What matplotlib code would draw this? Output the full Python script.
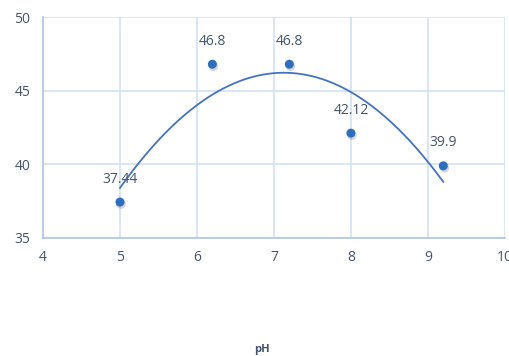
import numpy as np
import matplotlib.pyplot as plt
from matplotlib.transforms import ScaledTranslation

ph = [5, 6.2, 7.2, 8, 9.2]
values = [37.44, 46.8, 46.8, 42.12, 39.9]
labels = ['37.44', '46.8', '46.8', '42.12', '39.9']

plt.rcParams['font.family'] = ['Open Sans', 'DejaVu Sans']

fig = plt.figure(figsize=(5.1, 3.56), dpi=100)
ax = fig.add_axes([0.0843, 0.3315, 0.9057, 0.6205])

ax.set_xlim(4, 10)
ax.set_ylim(35, 50)
ax.set_xticks(range(4, 11))
ax.set_yticks(range(35, 51, 5))
ax.grid(True, color='#d3e0f4', lw=1.2)
ax.set_axisbelow(True)
for s in ['top', 'right']:
    ax.spines[s].set_visible(False)
for s in ['left', 'bottom']:
    ax.spines[s].set_color('#b4c8e8')
    ax.spines[s].set_linewidth(1.3)
ax.tick_params(length=0, labelsize=10, colors='#44546a', pad=9)

# polynomial trendline (order 2)
coef = np.polyfit(ph, values, 2)
xs = np.linspace(min(ph), max(ph), 200)
ax.plot(xs, np.polyval(coef, xs), color='#4472c4', lw=1.3, zorder=3)

# markers with a soft shadow
shadow = ax.transData + ScaledTranslation(1/100, -2/100, fig.dpi_scale_trans)
ax.scatter(ph, values, s=48, color='#888888', alpha=0.35, zorder=3,
           edgecolors='none', transform=shadow)
ax.scatter(ph, values, s=42, color='#2e6fbd', zorder=4, edgecolors='none')

for x, y, t in zip(ph, values, labels):
    ax.annotate(t, (x, y), xytext=(0, 16.5), textcoords='offset points',
                ha='center', va='center', fontsize=10, color='#44546a', zorder=5)

fig.text(0.514, 0.004, 'pH', ha='center', va='bottom', fontsize=8,
         fontweight='bold', color='#44546a')

fig.savefig('out.png', dpi=100)
